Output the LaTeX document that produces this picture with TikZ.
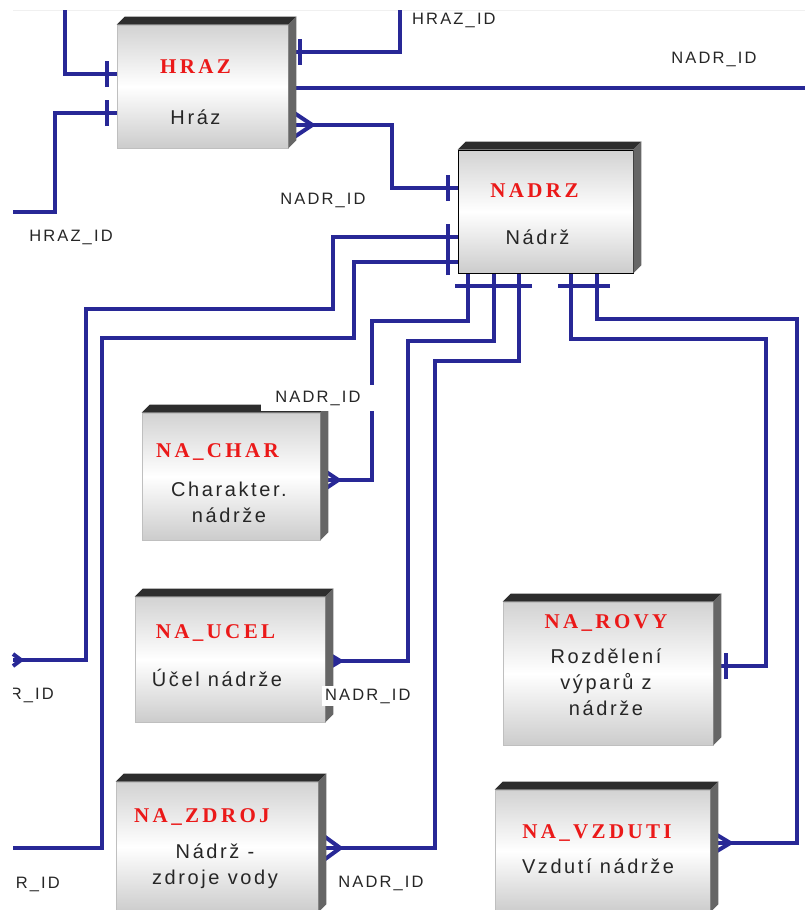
\documentclass[tikz,border=0pt]{standalone}
\usepackage{fontspec}
\setmainfont{Liberation Sans}
\newfontfamily\lblfont[LetterSpace=13]{Liberation Sans}
\newfontfamily\bodyfont[LetterSpace=13]{Liberation Sans}
\newfontfamily\titlefont[LetterSpace=16]{Liberation Serif}
\usetikzlibrary{calc, backgrounds, decorations.markings}
\definecolor{erblue}{RGB}{40,40,150}
\definecolor{ttlred}{RGB}{235,25,25}

\tikzset{
  bar end/.style={postaction={decorate, decoration={markings,
      mark=at position -#1 with {\draw[erblue, line width=4pt] (0,-13pt) -- (0,13pt);}}}},
  bar end/.default=10pt,
  bar start/.style={postaction={decorate, decoration={markings,
      mark=at position #1 with {\draw[erblue, line width=4pt] (0,-13pt) -- (0,13pt);}}}},
  bar start/.default=10pt,
  crow start/.style 2 args={postaction={decorate, decoration={markings,
      mark=at position #1 with {\draw[erblue, line width=4pt] (-#1,#2) -- (0,0) -- (-#1,-#2);}}}},
}

\begin{document}
\begin{tikzpicture}[x=1pt, y=-1pt,
  entity/.style={rectangle, draw=gray!50, line width=0.6pt, top color=gray!35,
    bottom color=gray!40, middle color=white, inner sep=0pt},
  bevel top/.style={fill=gray!35!black},
  bevel side/.style={fill=gray!80!black},
  ttl/.style={text=ttlred, font=\titlefont\bfseries\fontsize{21}{24}\selectfont},
  txt/.style={text=black!85, align=center, font=\bodyfont\fontsize{20}{26}\selectfont},
  lbl/.style={text=black!85, font=\lblfont\fontsize{16.5}{20}\selectfont, inner sep=2pt},
  rel/.style={draw=erblue, line width=4pt},
]
  \useasboundingbox (0,0) rectangle (805,910);
  \clip (13,0) rectangle (805,910);

  % entities
  \node[entity, minimum width=171pt, minimum height=123pt] (hraz) at (202.5,86.5) {};
  \node[entity, draw=black, minimum width=175pt, minimum height=123pt] (nadrz) at (545.5,211.5) {};
  \node[entity, minimum width=178pt, minimum height=127pt] (nachar) at (231,476.5) {};
  \node[entity, minimum width=190pt, minimum height=125pt] (naucel) at (230,659.5) {};
  \node[entity, minimum width=202pt, minimum height=130pt] (nazdroj) at (217,847) {};
  \node[entity, minimum width=210pt, minimum height=143pt] (narovy) at (608,673.5) {};
  \node[entity, minimum width=215pt, minimum height=122pt] (navzduti) at (602.5,851) {};

  \foreach \n in {hraz,nadrz,nachar,naucel,nazdroj,narovy,navzduti} {
    \fill[bevel top] (\n.north west) -- ++(8,-8) -- ([shift={(8,-8)}]\n.north east) -- (\n.north east) -- cycle;
    \fill[bevel side] (\n.north east) -- ++(8,-8) -- ([shift={(8,-8)}]\n.south east) -- (\n.south east) -- cycle;
  }

  \node[ttl] (hraz-t) at ($(hraz.north)+(-7,42)$) {HRAZ};
  \node[txt] (hraz-b) at ($(hraz.north)+(-7,93)$) {Hráz};
  \node[ttl] (nadrz-t) at ($(nadrz.north)+(-11,41)$) {NADRZ};
  \node[txt] (nadrz-b) at ($(nadrz.north)+(-8,88)$) {Nádrž};
  \node[ttl] (nachar-t) at ($(nachar.north)+(-13.5,39)$) {NA\_CHAR};
  \node[txt] (nachar-b) at ($(nachar.north)+(-2,89.5)$) {Charakter.\\nádrže};
  \node[ttl] (naucel-t) at ($(naucel.north)+(-14.5,36)$) {NA\_UCEL};
  \node[txt] (naucel-b) at ($(naucel.north)+(-13,81)$) {Účel nádrže};
  \node[ttl] (nazdroj-t) at ($(nazdroj.north)+(-15,35)$) {NA\_ZDROJ};
  \node[txt] (nazdroj-b) at ($(nazdroj.north)+(-2,84.5)$) {Nádrž -\\zdroje vody};
  \node[ttl] (narovy-t) at ($(narovy.north)+(-2,21)$) {NA\_ROVY};
  \node[txt] (narovy-b) at ($(narovy.north)+(-2,81)$) {Rozdělení\\výparů z\\nádrže};
  \node[ttl] (navzduti-t) at ($(navzduti.north)+(-5.5,43)$) {NA\_VZDUTI};
  \node[txt] (navzduti-b) at ($(navzduti.north)+(-4.5,77)$) {Vzdutí nádrže};

  % relationships
  \begin{scope}[on background layer]
    \draw[gray!12, line width=1pt] (13,10) -- (805,10);
    \coordinate (hrazin) at (65,10);
    \coordinate (hrazid) at (13,212);
    \coordinate (hrazup) at (400,10);
    \coordinate (nadrout) at (810,88);
    \coordinate (leftA) at (13,660);
    \coordinate (leftB) at (13,848);
    \draw[rel, bar end] (hrazin) |- (hraz.west |- 0,74);
    \draw[rel, bar end] (hrazid) -- (55,212) |- (hraz.west |- 0,113);
    \draw[rel, bar end=12pt] (hrazup) |- (hraz.east |- 0,52);
    \draw[rel] (hraz.east |- 0,88) -- (nadrout);
    \draw[rel, crow start={24pt}{16pt}, bar end] (hraz.east |- 0,125) -| (392,188) -- (nadrz.west |- 0,188);
    \draw[rel, crow start={8pt}{6pt}, bar end] (leftA) -| (86,309) -| (333,237) -- (nadrz.west |- 0,237);
    \draw[rel, bar end] (leftB) -| (102,338) -| (354,262) -- (nadrz.west |- 0,262);
    \draw[rel, crow start={18pt}{12pt}, bar end=13pt] (nachar.east |- 0,480) -| (372,321) -| (nadrz.south -| 468,0);
    \draw[rel, crow start={15pt}{9pt}, bar end=13pt] (naucel.east |- 0,661) -| (408,341) -| (nadrz.south -| 494,0);
    \draw[rel, crow start={22pt}{16pt}, bar end=13pt] (nazdroj.east |- 0,848) -| (435,361) -| (nadrz.south -| 519,0);
    \draw[rel, bar start=13pt, bar end=13pt] (narovy.east |- 0,666) -| (766,339) -| (nadrz.south -| 571,0);
    \draw[rel, crow start={20pt}{12pt}, bar end=13pt] (navzduti.east |- 0,843) -| (797,319) -| (nadrz.south -| 597,0);
  \end{scope}

  % role names
  \node[lbl, anchor=west] (id1) at (410,20) {HRAZ\_ID};
  \node[lbl] (id2) at (714,59) {NADR\_ID};
  \node[lbl] (id3) at (323,200) {NADR\_ID};
  \node[lbl] (id4) at (71,237) {HRAZ\_ID};
  \node[lbl, fill=white, minimum width=114pt, minimum height=26pt] (id5) at (318,398) {NADR\_ID};
  \node[lbl, anchor=east] (id6) at (56,695) {NADR\_ID};
  \node[lbl, anchor=west, fill=white, inner sep=3pt] (id7) at (322,696) {NADR\_ID};
  \node[lbl, anchor=east] (id8) at (62,884) {NADR\_ID};
  \node[lbl] (id9) at (381,883) {NADR\_ID};
\end{tikzpicture}
\end{document}
